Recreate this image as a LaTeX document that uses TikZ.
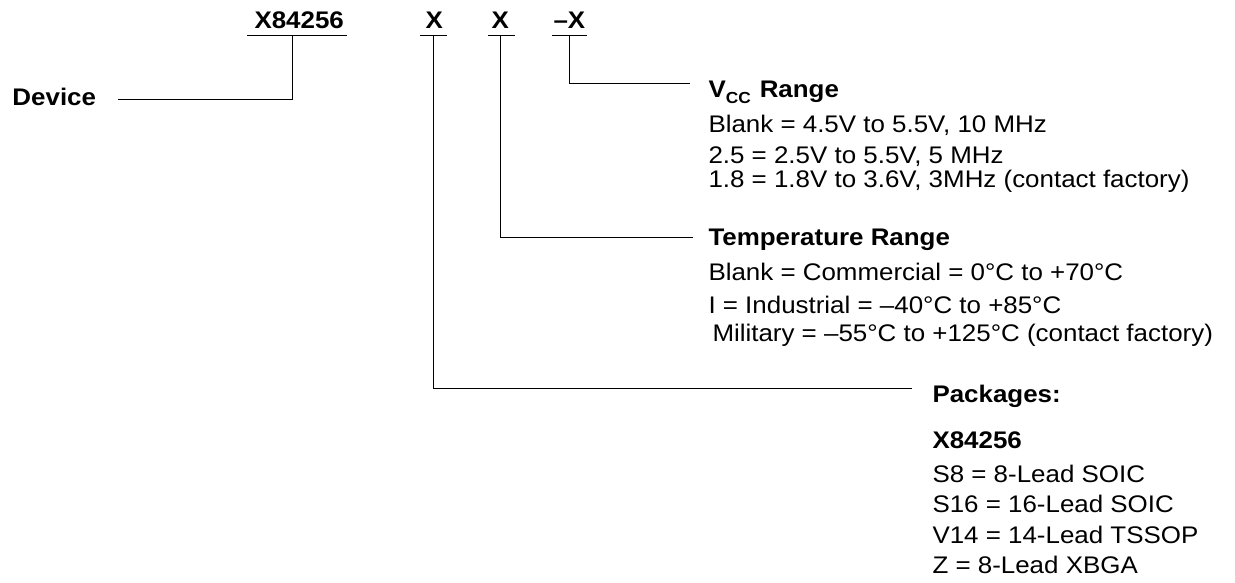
\documentclass[tikz,border=0pt]{standalone}
\usepackage{fontspec}
\setmainfont{Liberation Sans}[FakeStretch=1.08]
\begin{document}
\begin{tikzpicture}[x=1pt,y=-1pt,line width=1pt,
  txt/.style={anchor=base west,inner sep=0pt,font=\fontsize{24}{28}\selectfont},
  btxt/.style={anchor=base west,inner sep=0pt,font=\fontsize{24}{28}\selectfont\bfseries},
  conn/.style={draw=black,line width=1pt}]
\useasboundingbox (0,0) rectangle (1235,582);
% part number fields
\node[btxt] (pn) at (254,28) {X84256};
\node[btxt] (c1) at (425,28) {X};
\node[btxt] (c2) at (491,28) {X};
\node[btxt] (c3) at (553,28) {\textendash X};
% underlines
\coordinate (pnL) at (247,35.5); \coordinate (pnR) at (347,35.5); \coordinate (pnM) at (292,35.5);
\coordinate (c1L) at (420,35.5); \coordinate (c1R) at (447,35.5); \coordinate (c1M) at (433,35.5);
\coordinate (c2L) at (488,35.5); \coordinate (c2R) at (515,35.5); \coordinate (c2M) at (500,35.5);
\coordinate (c3L) at (552,35.5); \coordinate (c3R) at (587,35.5); \coordinate (c3M) at (569,35.5);
\draw[conn] (pnL) -- (pnR);
\draw[conn] (c1L) -- (c1R);
\draw[conn] (c2L) -- (c2R);
\draw[conn] (c3L) -- (c3R);
% labels
\node[btxt] (dev) at (12,105) {Device};
\node[btxt] (vcc) at (708,97) {V\raisebox{-6pt}{\fontsize{16}{16}\selectfont CC}\hspace{9pt}Range};
\node[txt] (v1) at (708,132) {Blank = 4.5V to 5.5V, 10 MHz};
\node[txt] (v2) at (708,163) {2.5 = 2.5V to 5.5V, 5 MHz};
\node[txt] (v3) at (708,187) {1.8 = 1.8V to 3.6V, 3MHz (contact factory)};
\node[btxt] (tmp) at (708,245) {Temperature Range};
\node[txt] (t1) at (708,280) {Blank = Commercial = 0°C to +70°C};
\node[txt] (t2) at (708,313) {I = Industrial = \textendash 40°C to +85°C};
\node[txt] (t3) at (712,341) {Military = \textendash 55°C to +125°C (contact factory)};
\node[btxt] (pkg) at (932,402) {Packages:};
\node[btxt] (p0) at (932,448) {X84256};
\node[txt] (p1) at (932,482) {S8 = 8-Lead SOIC};
\node[txt] (p2) at (932,512) {S16 = 16-Lead SOIC};
\node[txt] (p3) at (932,543) {V14 = 14-Lead TSSOP};
\node[txt] (p4) at (932,573) {Z = 8-Lead XBGA};
% connectors
\coordinate (devE) at (118,99);
\coordinate (vccE) at (690,83);
\coordinate (tmpE) at (693,237);
\coordinate (pkgE) at (912,388);
\draw[conn] (pnM) |- (devE);
\draw[conn] (c3M) |- (vccE);
\draw[conn] (c2M) |- (tmpE);
\draw[conn] (c1M) |- (pkgE);
\end{tikzpicture}
\end{document}
